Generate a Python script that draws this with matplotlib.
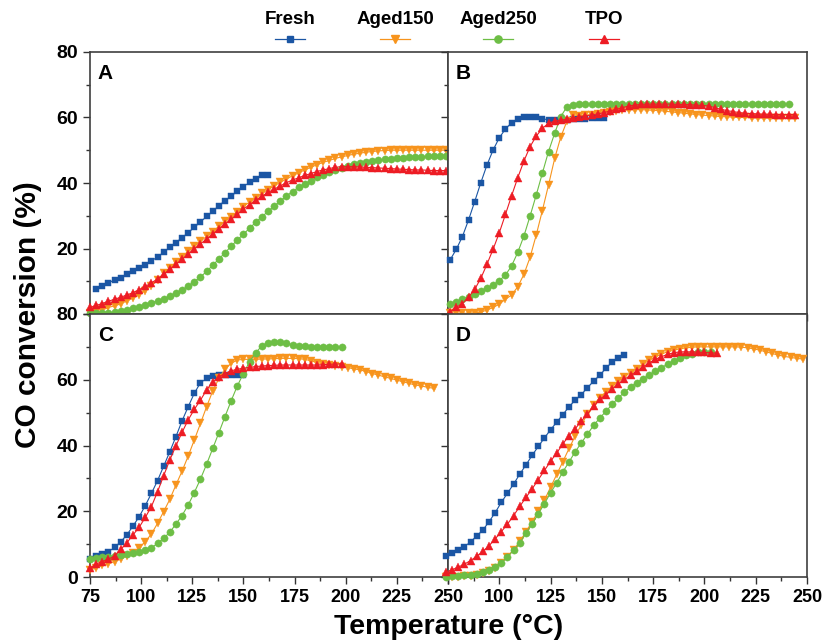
import numpy as np
import matplotlib.pyplot as plt
from matplotlib.lines import Line2D
from matplotlib.ticker import MultipleLocator

STEP = 3  # temperature spacing between readings (deg C)

names = ['Fresh', 'Aged150', 'Aged250', 'TPO']
colors = ['#1B56A4', '#F7941D', '#6DBE45', '#ED1C24']
markers = ['s', 'v', 'o', '^']
msizes = [4.7, 5.5, 5.2, 5.5]

# ---- panel A ----
a_fresh_t0 = 78
a_fresh = [7.6, 8.5, 9.5, 10.4, 11.1, 12.1, 13.0, 13.9, 15.0, 16.2, 17.4, 18.8, 20.4, 21.8, 23.3,
           24.8, 26.5, 28.1, 29.8, 31.3, 33.1, 34.6, 36.0, 37.5, 38.9, 40.2, 41.3, 42.3, 42.3]
a_aged150_t0 = 75
a_aged150 = [0.3, 0.6, 1.2, 2.0, 2.5, 3.1, 4.0, 4.9, 5.9, 7.1,
             8.6, 10.3, 12.4, 14.1, 15.8, 17.5, 19.1, 20.7, 22.2, 23.7,
             25.1, 26.8, 28.3, 29.7, 31.2, 32.8, 34.2, 35.5, 36.8, 38.0,
             39.1, 40.2, 41.2, 42.2, 43.1, 44.0, 44.8, 45.6, 46.3, 46.9,
             47.5, 48.0, 48.4, 48.8, 49.1, 49.4, 49.6, 49.8, 49.9, 50.0,
             50.0, 50.0, 50.0, 50.0, 50.0, 50.0, 50.0, 50.0, 50.0]
a_aged250_t0 = 75
a_aged250 = [0.2, 0.2, 0.2, 0.4, 0.6, 0.9, 1.2, 1.7, 2.2, 2.7,
             3.4, 4.0, 4.7, 5.4, 6.3, 7.3, 8.5, 9.9, 11.3, 13.0,
             14.9, 16.8, 18.7, 20.7, 22.6, 24.4, 26.2, 28.0, 29.7, 31.3,
             32.9, 34.5, 36.0, 37.4, 38.7, 39.7, 40.7, 41.7, 42.5, 43.3,
             44.0, 44.7, 45.2, 45.7, 46.2, 46.5, 46.8, 47.0, 47.2, 47.4,
             47.6, 47.7, 47.8, 47.9, 48.0, 48.1, 48.2, 48.2, 48.2]
a_tpo_t0 = 75
a_tpo = [2.0, 2.6, 3.2, 3.9, 4.5, 5.1, 5.8, 6.5, 7.4, 8.4,
         9.5, 10.7, 12.1, 13.6, 15.2, 16.7, 18.3, 19.9, 21.4, 22.9,
         24.4, 26.0, 27.5, 28.9, 30.4, 32.0, 33.4, 34.7, 35.9, 37.1,
         38.1, 39.1, 40.1, 40.9, 41.6, 42.3, 42.9, 43.5, 44.0, 44.4,
         44.8, 45.0, 45.0, 45.0, 44.9, 44.8, 44.7, 44.6, 44.5, 44.4,
         44.3, 44.2, 44.1, 44.0, 44.0, 43.9, 43.8, 43.8, 43.8]

# ---- panel B ----
b_fresh_t0 = 76
b_fresh = [16.5, 19.7, 23.6, 28.7, 34.3, 40.1, 45.5, 50.1, 53.8, 56.5, 58.4, 59.6, 60.3, 60.3,
           60.0, 59.6, 59.3, 59.2, 59.2, 59.3, 59.4, 59.5, 59.6, 59.7, 59.8, 59.8]
b_aged150_t0 = 76
b_aged150 = [0.2, 0.2, 0.2, 0.2, 0.3, 0.6, 1.2, 2.0, 3.0, 4.5,
             5.8, 8.3, 12.1, 17.3, 24.1, 31.6, 39.4, 47.5, 54.1, 58.9,
             60.8, 60.6, 60.7, 60.9, 61.2, 61.5, 61.8, 62.0, 62.2, 62.3,
             62.4, 62.4, 62.3, 62.2, 62.1, 61.9, 61.7, 61.5, 61.3, 61.1,
             60.9, 60.7, 60.6, 60.4, 60.3, 60.2, 60.1, 60.0, 60.0, 59.9,
             59.9, 59.9, 59.8, 59.8, 59.8, 59.8, 59.8]
b_aged250_t0 = 76
b_aged250 = [3.0, 3.8, 4.5, 5.3, 6.1, 6.9, 7.8, 8.9, 10.2, 11.9,
             14.7, 18.8, 23.8, 29.9, 36.3, 43.0, 49.6, 55.2, 60.3, 63.3,
             63.8, 64.0, 64.0, 64.1, 64.1, 64.1, 64.1, 64.1, 64.1, 64.1,
             64.1, 64.1, 64.1, 64.1, 64.1, 64.1, 64.1, 64.1, 64.1, 64.1,
             64.1, 64.1, 64.1, 64.1, 64.1, 64.1, 64.1, 64.1, 64.1, 64.1,
             64.1, 64.1, 64.1, 64.1, 64.1, 64.1]
b_tpo_t0 = 76
b_tpo = [0.7, 2.0, 3.2, 5.1, 7.5, 10.9, 15.2, 19.8, 24.8, 30.4,
         36.1, 41.6, 46.7, 51.1, 54.3, 56.7, 58.2, 58.9, 59.2, 59.5,
         59.7, 60.3, 60.5, 60.8, 61.1, 61.5, 62.0, 62.5, 63.0, 63.5,
         63.8, 64.0, 64.1, 64.1, 64.1, 64.1, 64.1, 64.0, 64.0, 63.9,
         63.8, 63.7, 63.5, 63.0, 62.5, 62.1, 61.8, 61.5, 61.3, 61.2,
         61.1, 61.0, 61.0, 60.9, 60.9, 60.9, 60.9]

# ---- panel C ----
c_fresh_t0 = 75
c_fresh = [5.6, 6.4, 6.9, 7.7, 9.0, 10.7, 12.8, 15.5, 18.3, 21.7, 25.4, 29.3, 33.7, 38.1, 42.7,
           47.5, 51.8, 55.9, 59.1, 60.4, 61.1, 61.3, 61.4, 61.3, 61.3, 61.4]
c_aged150_t0 = 75
c_aged150 = [2.1, 2.8, 3.5, 4.0, 4.7, 5.5, 6.4, 7.4, 8.9, 10.7,
             13.1, 16.3, 19.9, 23.6, 28.0, 32.2, 36.8, 41.7, 46.7, 51.8,
             56.6, 60.4, 63.2, 65.0, 66.0, 66.2, 66.2, 66.2, 66.3, 66.3,
             66.4, 66.5, 66.5, 66.5, 66.4, 66.2, 65.8, 65.2, 64.8, 64.5,
             64.3, 64.0, 63.7, 63.3, 63.0, 62.5, 61.9, 61.4, 60.9, 60.4,
             59.9, 59.4, 58.9, 58.4, 58.1, 57.7, 57.4]
c_aged250_t0 = 75
c_aged250 = [5.4, 5.7, 6.0, 6.2, 6.5, 6.7, 6.9, 7.2, 7.6, 8.2,
             8.9, 10.2, 11.8, 13.6, 16.1, 18.7, 21.9, 25.7, 29.8, 34.3,
             39.1, 43.9, 48.8, 53.6, 58.1, 61.9, 65.5, 68.2, 70.3, 71.1,
             71.4, 71.4, 71.1, 70.7, 70.4, 70.2, 70.1, 70.0, 69.9, 69.9,
             69.9, 69.9]
c_tpo_t0 = 75
c_tpo = [2.7, 3.9, 4.7, 5.4, 6.4, 8.4, 10.4, 12.8, 15.1, 18.1,
         21.4, 25.9, 30.8, 35.6, 39.9, 44.0, 47.8, 51.0, 53.8, 56.9,
         59.4, 60.9, 61.9, 62.7, 63.2, 63.5, 63.8, 64.0, 64.2, 64.3,
         64.4, 64.5, 64.5, 64.5, 64.5, 64.5, 64.5, 64.5, 64.6, 64.7,
         64.8, 64.8]

# ---- panel D ----
d_fresh_t0 = 74
d_fresh = [6.5, 7.4, 8.2, 9.2, 10.7, 12.5, 14.3, 16.8, 19.6, 22.7, 25.5, 28.3, 31.3, 34.1, 37.0,
           39.7, 42.3, 44.8, 47.1, 49.4, 51.8, 53.8, 55.5, 57.6, 59.6, 61.4, 63.5, 65.4, 66.7, 67.4]
d_aged150_t0 = 74
d_aged150 = [0.1, 0.1, 0.1, 0.2, 0.4, 0.7, 1.1, 1.7, 2.8, 4.2,
             6.2, 8.3, 10.8, 13.8, 16.8, 20.0, 23.4, 27.3, 31.2, 35.1,
             39.1, 42.9, 46.3, 49.6, 52.3, 54.6, 56.3, 58.0, 59.5, 60.9,
             62.2, 63.4, 64.7, 65.9, 66.9, 67.8, 68.5, 69.0, 69.4, 69.7,
             69.9, 70.0, 70.0, 70.0, 70.0, 70.0, 70.0, 70.0, 69.9, 69.7,
             69.4, 69.0, 68.5, 68.0, 67.5, 67.1, 66.8, 66.5, 66.3]
d_aged250_t0 = 74
d_aged250 = [0.1, 0.2, 0.3, 0.5, 0.7, 1.0, 1.5, 2.1, 3.0, 4.2,
             6.2, 8.1, 10.3, 13.4, 16.1, 19.2, 22.3, 25.6, 28.6, 32.0,
             35.0, 38.1, 40.8, 43.5, 46.1, 48.4, 50.4, 52.5, 54.5, 56.2,
             57.8, 59.1, 60.3, 61.4, 62.6, 63.7, 64.7, 65.7, 66.7, 67.4,
             67.9, 68.4, 68.5, 68.5]
d_tpo_t0 = 74
d_tpo = [1.5, 2.2, 3.0, 3.9, 5.0, 6.3, 7.8, 9.5, 11.6, 13.8,
         16.1, 18.7, 21.5, 24.2, 26.8, 29.6, 32.4, 35.2, 37.7, 40.5,
         43.0, 45.1, 47.4, 49.6, 51.9, 54.0, 55.5, 57.2, 58.7, 60.1,
         61.4, 62.6, 63.9, 65.1, 66.2, 67.0, 67.7, 68.2, 68.5, 68.5,
         68.5, 68.4, 68.3, 68.2, 68.1]

panels = {
    'A': [(a_fresh_t0, a_fresh), (a_aged150_t0, a_aged150), (a_aged250_t0, a_aged250), (a_tpo_t0, a_tpo)],
    'B': [(b_fresh_t0, b_fresh), (b_aged150_t0, b_aged150), (b_aged250_t0, b_aged250), (b_tpo_t0, b_tpo)],
    'C': [(c_fresh_t0, c_fresh), (c_aged150_t0, c_aged150), (c_aged250_t0, c_aged250), (c_tpo_t0, c_tpo)],
    'D': [(d_fresh_t0, d_fresh), (d_aged150_t0, d_aged150), (d_aged250_t0, d_aged250), (d_tpo_t0, d_tpo)],
}

x_ticks = [75, 100, 125, 150, 175, 200, 225, 250]
y_ticks = [0, 20, 40, 60, 80]

plt.rcParams['font.family'] = ['Liberation Sans', 'DejaVu Sans']

fig = plt.figure(figsize=(8.26, 6.41), dpi=100)
L, M, R = 90 / 826, 448 / 826, 807 / 826
T, H, B = 1 - 52 / 641, 1 - 314 / 641, 1 - 577 / 641
rects = {
    'A': [L, H, M - L, T - H],
    'B': [M, H, R - M, T - H],
    'C': [L, B, M - L, H - B],
    'D': [M, B, R - M, H - B],
}

for key in ['A', 'B', 'C', 'D']:
    ax = fig.add_axes(rects[key])
    for (t0, vals), c, mk, ms in zip(panels[key], colors, markers, msizes):
        t = t0 + STEP * np.arange(len(vals))
        ax.plot(t, vals, color=c, lw=0.8, marker=mk, ms=ms, mec=c, mew=0.3, clip_on=False, zorder=3)
    ax.set_xlim(75, 250)
    ax.set_ylim(0, 80)
    ax.set_xticks(x_ticks)
    ax.set_yticks(y_ticks)
    ax.xaxis.set_minor_locator(MultipleLocator(12.5))
    ax.yaxis.set_minor_locator(MultipleLocator(10))
    ax.tick_params(which='both', direction='out', color='#333333', width=1.0)
    ax.tick_params(which='major', length=5)
    ax.tick_params(which='minor', length=3)
    for s in ax.spines.values():
        s.set_color('#404040')
        s.set_linewidth(1.2)
    ax.text(0.022, 0.955, key, transform=ax.transAxes, ha='left', va='top',
            fontsize=15, fontweight='bold', zorder=5)

    top = key in ('A', 'B')
    left = key in ('A', 'C')
    if top:
        ax.tick_params(labelbottom=False)
    else:
        xl = [str(v) for v in x_ticks]
        if not left:
            xl[0] = ''
        ax.set_xticklabels(xl, fontsize=13, fontweight='bold')
    if left:
        yl = [str(v) for v in y_ticks]
        if top:
            yl[0] = ''
        ax.set_yticklabels(yl, fontsize=14, fontweight='bold')
    else:
        ax.tick_params(labelleft=False)

fig.text(0.034, 1 - 315 / 641, 'CO conversion (%)', rotation=90,
         ha='center', va='center', fontsize=21.5, fontweight='bold')
fig.text((L + R) / 2, 0.002, 'Temperature (\u00b0C)', ha='center', va='bottom',
         fontsize=20.5, fontweight='bold')

# legend: label above a short line with marker
leg_x = [290, 395, 498, 604]
for xc, name, c, mk, ms in zip(leg_x, names, colors, markers, msizes):
    fx = xc / 826
    fig.text(fx, 1 - 20 / 641, name, ha='center', va='center', fontsize=13.5, fontweight='bold')
    fig.add_artist(Line2D([fx - 15 / 826, fx + 15 / 826], [1 - 39 / 641, 1 - 39 / 641],
                          transform=fig.transFigure, color=c, lw=0.9))
    fig.add_artist(Line2D([fx], [1 - 39 / 641], transform=fig.transFigure, color=c,
                          marker=mk, ms=ms, mec=c, ls='none'))

fig.savefig('out.png', dpi=100)
